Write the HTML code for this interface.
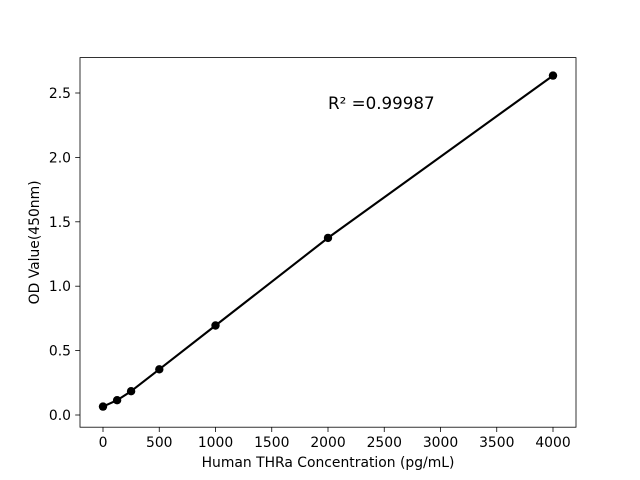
<!DOCTYPE html>
<html><head><meta charset="utf-8"><style>
html,body{margin:0;padding:0;background:#fff;}
svg{display:block;font-family:"DejaVu Sans","Liberation Sans",sans-serif;}
</style></head><body>
<svg width="640" height="480" viewBox="0 0 640 480" xmlns="http://www.w3.org/2000/svg">
<rect width="640" height="480" fill="#fff"/>
<rect x="80" y="57.6" width="496" height="369.6" fill="none" stroke="#000" stroke-width="0.8"/>
<g stroke="#000" stroke-width="0.8">
<line x1="103" y1="427.2" x2="103" y2="432"/>
<line x1="159.25" y1="427.2" x2="159.25" y2="432"/>
<line x1="215.5" y1="427.2" x2="215.5" y2="432"/>
<line x1="271.75" y1="427.2" x2="271.75" y2="432"/>
<line x1="328" y1="427.2" x2="328" y2="432"/>
<line x1="384.25" y1="427.2" x2="384.25" y2="432"/>
<line x1="440.5" y1="427.2" x2="440.5" y2="432"/>
<line x1="496.75" y1="427.2" x2="496.75" y2="432"/>
<line x1="553" y1="427.2" x2="553" y2="432"/>
<line x1="75.2" y1="415" x2="80" y2="415"/>
<line x1="75.2" y1="350.6" x2="80" y2="350.6"/>
<line x1="75.2" y1="286.2" x2="80" y2="286.2"/>
<line x1="75.2" y1="221.8" x2="80" y2="221.8"/>
<line x1="75.2" y1="157.4" x2="80" y2="157.4"/>
<line x1="75.2" y1="93" x2="80" y2="93"/>
</g>
<g font-size="13.9" fill="#000" text-anchor="middle">
<text x="103" y="447">0</text>
<text x="159.25" y="447">500</text>
<text x="215.5" y="447">1000</text>
<text x="271.75" y="447">1500</text>
<text x="328" y="447">2000</text>
<text x="384.25" y="447">2500</text>
<text x="440.5" y="447">3000</text>
<text x="496.75" y="447">3500</text>
<text x="553" y="447">4000</text>
</g>
<g font-size="13.9" fill="#000" text-anchor="end">
<text x="71" y="420">0.0</text>
<text x="71" y="355.6">0.5</text>
<text x="71" y="291.2">1.0</text>
<text x="71" y="226.8">1.5</text>
<text x="71" y="162.4">2.0</text>
<text x="71" y="98">2.5</text>
</g>
<text x="328" y="467" font-size="13.9" text-anchor="middle">Human THRa Concentration (pg/mL)</text>
<text x="0" y="0" font-size="13.9" text-anchor="middle" transform="translate(39,242.4) rotate(-90)">OD Value(450nm)</text>
<text x="328" y="109" font-size="16.7">R² =0.99987</text>
<polyline fill="none" stroke="#000" stroke-width="2.1" points="103,406.6 117.1,400.2 131.1,391.2 159.3,369.3 215.5,325.5 328,237.9 553,75.6"/>
<g fill="#000">
<circle cx="103" cy="406.6" r="4.2"/>
<circle cx="117.1" cy="400.2" r="4.2"/>
<circle cx="131.1" cy="391.2" r="4.2"/>
<circle cx="159.3" cy="369.3" r="4.2"/>
<circle cx="215.5" cy="325.5" r="4.2"/>
<circle cx="328" cy="237.9" r="4.2"/>
<circle cx="553" cy="75.6" r="4.2"/>
</g>
</svg>
</body></html>
